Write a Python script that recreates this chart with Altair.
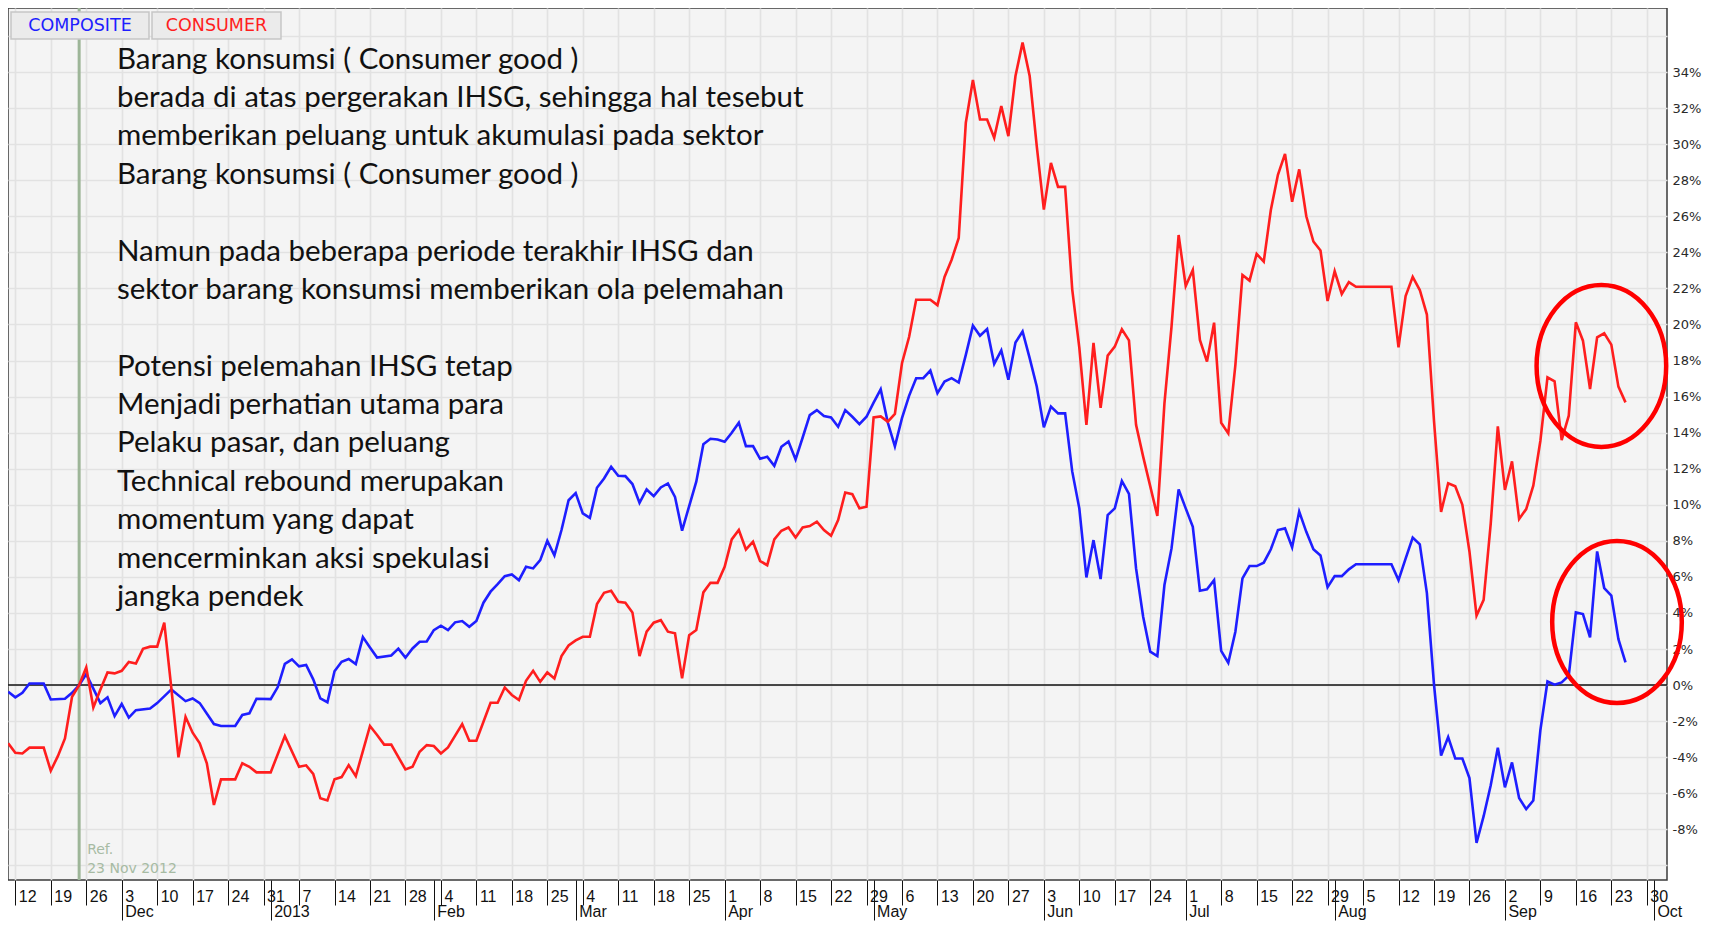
import json
import altair as alt
import pandas as pd

# x = trading session index counted from Monday 12 Nov 2012 (= 0); y = % change vs 23 Nov 2012
composite_points = [
    (-1, -0.37), (0, -0.68), (1, -0.43), (2, 0.09), (4, 0.09), (5, -0.80), (7, -0.76), (8, -0.43),
    (9, 0.00), (10, 0.61), (12, -1.00), (13, -0.68), (14, -1.72), (15, -1.05), (16, -1.80), (17, -1.39),
    (19, -1.30), (20, -1.00), (22, -0.24), (24, -0.89), (25, -0.74), (26, -1.00), (28, -2.16), (29, -2.27),
    (31, -2.27), (32, -1.66), (33, -1.57), (34, -0.76), (36, -0.78), (37, -0.11), (38, 1.18), (39, 1.43),
    (40, 1.04), (41, 1.12), (42, 0.32), (43, -0.74), (44, -0.95), (45, 0.77), (46, 1.29), (47, 1.45),
    (48, 1.16), (49, 2.66), (50, 2.08), (51, 1.53), (53, 1.64), (54, 2.02), (55, 1.52), (56, 2.03),
    (57, 2.40), (58, 2.42), (59, 3.05), (60, 3.29), (61, 3.05), (62, 3.48), (63, 3.55), (64, 3.23),
    (65, 3.55), (66, 4.57), (67, 5.18), (68, 5.60), (69, 6.04), (70, 6.14), (71, 5.82), (72, 6.56),
    (73, 6.47), (74, 6.93), (75, 8.00), (76, 7.20), (77, 8.60), (78, 10.25), (79, 10.65), (80, 9.52),
    (81, 9.27), (82, 10.94), (83, 11.46), (84, 12.11), (85, 11.61), (86, 11.59), (87, 11.15), (88, 10.11),
    (89, 10.85), (90, 10.48), (91, 10.96), (92, 11.18), (93, 10.44), (94, 8.56), (95, 9.93), (96, 11.28),
    (97, 13.36), (98, 13.66), (99, 13.62), (100, 13.49), (101, 13.99), (102, 14.55), (103, 13.25), (104, 13.25),
    (105, 12.55), (106, 12.66), (107, 12.16), (108, 13.22), (109, 13.51), (110, 12.51), (111, 13.73), (112, 14.97),
    (113, 15.25), (114, 14.92), (115, 14.84), (116, 14.33), (117, 15.25), (118, 14.88), (119, 14.47), (120, 14.88),
    (121, 15.66), (122, 16.40), (123, 14.56), (124, 13.24), (125, 14.80), (126, 16.04), (127, 17.02), (128, 17.02),
    (129, 17.44), (130, 16.19), (131, 16.83), (132, 17.02), (133, 16.78), (134, 18.31), (135, 19.93), (136, 19.37),
    (137, 19.74), (138, 17.81), (139, 18.56), (140, 16.93), (141, 19.00), (142, 19.61), (143, 18.13), (144, 16.56),
    (145, 14.30), (146, 15.44), (147, 15.07), (148, 15.07), (149, 11.85), (150, 9.80), (151, 5.97), (152, 8.04),
    (153, 5.88), (154, 9.43), (155, 9.80), (156, 11.32), (157, 10.60), (158, 6.47), (159, 3.79), (160, 1.85),
    (161, 1.61), (162, 5.55), (163, 7.58), (164, 10.85), (165, 9.80), (166, 8.78), (167, 5.23), (168, 5.31),
    (169, 5.82), (170, 1.90), (171, 1.24), (172, 2.96), (173, 5.92), (174, 6.60), (175, 6.60), (176, 6.79),
    (177, 7.53), (178, 8.60), (179, 8.69), (180, 7.64), (181, 9.62), (182, 8.50), (183, 7.53), (184, 7.19),
    (185, 5.43), (186, 6.04), (187, 6.04), (188, 6.42), (189, 6.70), (194, 6.70), (195, 5.82), (196, 7.01),
    (197, 8.18), (198, 7.80), (199, 5.10), (200, 0.04), (201, -3.91), (202, -2.88), (203, -4.07), (204, -4.07),
    (205, -5.16), (206, -8.75), (207, -7.27), (208, -5.56), (209, -3.47), (210, -5.67), (211, -4.29), (212, -6.26),
    (213, -6.88), (214, -6.40), (215, -2.50), (216, 0.20), (217, 0.02), (218, 0.15), (219, 0.52), (220, 4.03),
    (221, 3.94), (222, 2.64), (223, 7.41), (224, 5.38), (225, 4.96), (226, 2.55), (227, 1.26),
]

consumer_points = [
    (-1, -3.23), (0, -3.75), (1, -3.79), (2, -3.47), (4, -3.47), (5, -4.75), (6, -3.94), (7, -2.96),
    (8, -0.65), (9, 0.00), (10, 0.98), (11, -1.24), (12, -0.24), (13, 0.70), (14, 0.65), (15, 0.79),
    (16, 1.28), (17, 1.20), (18, 2.01), (19, 2.13), (20, 2.13), (21, 3.46), (22, -0.18), (23, -4.01),
    (24, -1.76), (25, -2.64), (26, -3.23), (27, -4.34), (28, -6.65), (29, -5.23), (31, -5.23), (32, -4.34),
    (33, -4.53), (34, -4.84), (36, -4.84), (38, -2.83), (40, -4.53), (41, -4.45), (42, -4.92), (43, -6.28),
    (44, -6.40), (45, -5.22), (46, -5.10), (47, -4.44), (48, -5.05), (49, -3.66), (50, -2.27), (51, -2.77),
    (52, -3.30), (53, -3.30), (55, -4.68), (56, -4.53), (57, -3.70), (58, -3.33), (59, -3.38), (60, -3.79),
    (61, -3.46), (63, -2.16), (64, -3.09), (65, -3.09), (66, -2.03), (67, -0.98), (68, -0.98), (69, -0.13),
    (70, -0.55), (71, -0.83), (72, 0.24), (73, 0.79), (74, 0.18), (75, 0.70), (76, 0.37), (77, 1.61),
    (78, 2.20), (79, 2.48), (80, 2.68), (81, 2.68), (82, 4.49), (83, 5.12), (84, 5.23), (85, 4.62),
    (86, 4.57), (87, 4.03), (88, 1.61), (89, 2.96), (90, 3.46), (91, 3.60), (92, 2.96), (93, 2.87),
    (94, 0.37), (95, 2.77), (96, 3.05), (97, 5.14), (98, 5.67), (99, 5.67), (100, 6.56), (101, 8.08),
    (102, 8.60), (103, 7.52), (104, 7.95), (105, 6.88), (106, 6.65), (107, 8.08), (108, 8.56), (109, 8.74),
    (110, 8.19), (111, 8.74), (112, 8.82), (113, 9.06), (114, 8.60), (115, 8.28), (116, 9.15), (117, 10.68),
    (118, 10.59), (119, 9.80), (120, 9.89), (121, 14.84), (122, 14.90), (123, 14.61), (124, 15.04), (125, 17.85),
    (126, 19.30), (127, 21.37), (129, 21.37), (130, 21.07), (131, 22.63), (132, 23.59), (133, 24.80), (134, 31.19),
    (135, 33.56), (136, 31.37), (137, 31.37), (138, 30.35), (139, 32.11), (140, 30.44), (141, 33.78), (142, 35.63),
    (143, 33.78), (144, 29.89), (145, 26.37), (146, 28.96), (147, 27.63), (148, 27.63), (149, 21.95), (150, 18.72),
    (151, 14.43), (152, 18.98), (153, 15.38), (154, 18.27), (155, 18.77), (156, 19.73), (157, 19.12), (158, 14.43),
    (159, 12.67), (161, 9.38), (162, 15.62), (163, 19.88), (164, 24.96), (165, 22.13), (166, 23.02), (167, 19.14),
    (168, 17.94), (169, 20.10), (170, 14.55), (171, 13.96), (172, 17.75), (173, 22.74), (174, 22.43), (175, 23.91),
    (176, 23.48), (177, 26.35), (178, 28.30), (179, 29.46), (180, 26.80), (181, 28.60), (182, 26.00), (183, 24.60),
    (184, 24.10), (185, 21.30), (186, 22.95), (187, 21.69), (188, 22.35), (189, 22.09), (194, 22.09), (195, 18.73),
    (196, 21.58), (197, 22.64), (198, 21.91), (199, 20.55), (200, 14.66), (201, 9.60), (202, 11.19), (203, 11.03),
    (204, 10.00), (205, 7.41), (206, 3.85), (207, 4.73), (208, 8.95), (209, 14.35), (210, 10.82), (211, 12.41),
    (212, 9.21), (213, 9.76), (214, 11.06), (215, 13.55), (216, 17.07), (217, 16.85), (218, 13.59), (219, 14.94),
    (220, 20.12), (221, 19.10), (222, 16.42), (223, 19.29), (224, 19.51), (225, 18.88), (226, 16.55), (227, 15.68),
]

series_names = ["COMPOSITE", "CONSUMER"]
series_colors = ["#1e1eff", "#ff1e1e"]

week_tick_day = list(range(0, 231, 5))
week_tick_label = ["12", "19", "26", "3", "10", "17", "24", "31", "7", "14", "21", "28",
                   "4", "11", "18", "25", "4", "11", "18", "25", "1", "8", "15", "22", "29",
                   "6", "13", "20", "27", "3", "10", "17", "24", "1", "8", "15", "22", "29",
                   "5", "12", "19", "26", "2", "9", "16", "23", "30"]
month_tick_day = [15, 36, 59, 79, 100, 121, 145, 165, 186, 210, 231]
month_tick_label = ["Dec", "2013", "Feb", "Mar", "Apr", "May", "Jun", "Jul", "Aug", "Sep", "Oct"]
pct_ticks = list(range(-10, 37, 2))

ref_day = 9
ref_label = ["Ref.", "23 Nov 2012"]

note_paragraphs = [
    ["Barang konsumsi ( Consumer good )",
     "berada di atas pergerakan IHSG, sehingga hal tesebut",
     "memberikan peluang untuk akumulasi pada sektor",
     "Barang konsumsi ( Consumer good )"],
    ["Namun pada beberapa periode terakhir IHSG dan",
     "sektor barang konsumsi memberikan ola pelemahan"],
    ["Potensi pelemahan IHSG tetap",
     "Menjadi perhatian utama para",
     "Pelaku pasar, dan peluang",
     "Technical rebound merupakan",
     "momentum yang dapat",
     "mencerminkan aksi spekulasi",
     "jangka pendek"],
]
note_first_row = [0, 5, 8]   # row of each paragraph's first line (blank rows between)

highlight_day = [223.6, 225.8]
highlight_pct = [17.7, 3.5]

# ---------------------------------------------------------------- frames
rows = []
for name, pts in zip(series_names, [composite_points, consumer_points]):
    for d, v in pts:
        rows.append({"t": d, "v": v, "series": name})
lines_df = pd.DataFrame(rows)

W, H = 1659, 872
LINE_H = 38.4
xs = alt.Scale(domain=[-1.03, 232.85], nice=False, zero=False)
ys = alt.Scale(domain=[-10.81, 37.55], nice=False, zero=False)

AX_FONT = "Liberation Sans, Arial, sans-serif"

day_axis = alt.Axis(
    values=week_tick_day,
    labelExpr=json.dumps(week_tick_label) + "[round(datum.value / 5)]",
    orient="bottom", title=None, domain=False,
    grid=True, gridColor="#e2e2e2", gridWidth=1.6,
    ticks=True, tickSize=25, tickColor="#111111", tickWidth=1,
    labelAlign="left", labelBaseline="middle", labelPadding=-9, labelOffset=3,
    labelFlush=False, labelOverlap=False, labelBound=False,
    labelFont=AX_FONT, labelFontSize=16, labelColor="#111111",
)
month_axis = alt.Axis(
    values=month_tick_day,
    labelExpr=json.dumps(month_tick_label) + "[indexof(" + json.dumps(month_tick_day) + ", datum.value)]",
    orient="bottom", title=None, domain=False, grid=False,
    ticks=True, tickSize=40, tickColor="#111111", tickWidth=1,
    labelAlign="left", labelBaseline="middle", labelPadding=-9, labelOffset=3,
    labelFlush=False, labelOverlap=False, labelBound=False,
    labelFont=AX_FONT, labelFontSize=16, labelColor="#111111",
)
y_axis = alt.Axis(
    values=pct_ticks,
    labelExpr="(datum.value < -9 || datum.value > 35) ? '' : datum.value + '%'",
    orient="right", title=None, domain=False, ticks=False,
    grid=True, gridColor="#e2e2e2", gridWidth=1.6,
    labelFont="DejaVu Sans", labelFontSize=13, labelColor="#2a2a2a", labelPadding=5,
    labelOverlap=False,
)

ref_rule = alt.Chart(pd.DataFrame({"t": [ref_day]})).mark_rule(
    color="#9db598", strokeWidth=3
).encode(x=alt.X("t:Q", scale=xs, axis=None))

zero_rule = alt.Chart(pd.DataFrame({"v": [0]})).mark_rule(
    color="#111111", strokeWidth=1.5
).encode(y=alt.Y("v:Q", scale=ys, axis=y_axis))

lines = alt.Chart(lines_df).mark_line(strokeWidth=2.6).encode(
    x=alt.X("t:Q", scale=xs, axis=day_axis),
    y=alt.Y("v:Q", scale=ys, axis=y_axis),
    color=alt.Color("series:N", scale=alt.Scale(domain=series_names, range=series_colors), legend=None),
)

month_layer = alt.Chart(pd.DataFrame({"t": month_tick_day, "v": [0] * len(month_tick_day)})).mark_point(
    opacity=0
).encode(
    x=alt.X("t:Q", scale=xs, axis=month_axis),
    y=alt.Y("v:Q", scale=ys, axis=y_axis),
)

note_layers = []
for para, row0 in zip(note_paragraphs, note_first_row):
    note_layers.append(
        alt.Chart(pd.DataFrame({"txt": ["\n".join(para)]})).mark_text(
            align="left", baseline="alphabetic", lineBreak="\n", lineHeight=LINE_H,
            font="Lato", fontSize=29.5, color="#111111",
        ).encode(x=alt.value(109), y=alt.value(60.5 + row0 * LINE_H), text="txt:N")
    )

ref_text = alt.Chart(pd.DataFrame({"t": [ref_day], "txt": ["\n".join(ref_label)]})).mark_text(
    align="left", baseline="alphabetic", lineBreak="\n", lineHeight=19, dx=8,
    font="DejaVu Sans", fontSize=14, color="#a7bba3",
).encode(x=alt.X("t:Q", scale=xs, axis=None), y=alt.value(846), text="txt:N")

ELLIPSE = "M -0.8 0 A 0.8 1 0 1 1 0.8 0 A 0.8 1 0 1 1 -0.8 0 Z"
ellipses = alt.Chart(pd.DataFrame({"t": highlight_day, "v": highlight_pct})).mark_point(
    shape=ELLIPSE, size=26244, filled=False, color="#ff0000", strokeWidth=4.5, opacity=1
).encode(
    x=alt.X("t:Q", scale=xs, axis=None),
    y=alt.Y("v:Q", scale=ys, axis=y_axis),
)

btn1 = alt.Chart(pd.DataFrame({"a": [0]})).mark_rect(
    fill="#ebebeb", stroke="#c6c6c6", strokeWidth=1.5
).encode(x=alt.value(3), x2=alt.value(141), y=alt.value(4), y2=alt.value(31))
btn2 = alt.Chart(pd.DataFrame({"a": [0]})).mark_rect(
    fill="#ebebeb", stroke="#c6c6c6", strokeWidth=1.5
).encode(x=alt.value(144), x2=alt.value(273), y=alt.value(4), y2=alt.value(31))
btn_t1 = alt.Chart(pd.DataFrame({"txt": [series_names[0]]})).mark_text(
    align="center", baseline="middle", font="DejaVu Sans", fontSize=17.5, color=series_colors[0]
).encode(x=alt.value(72), y=alt.value(18), text="txt:N")
btn_t2 = alt.Chart(pd.DataFrame({"txt": [series_names[1]]})).mark_text(
    align="center", baseline="middle", font="DejaVu Sans", fontSize=17.5, color=series_colors[1]
).encode(x=alt.value(208.5), y=alt.value(18), text="txt:N")

chart = alt.layer(
    ref_rule, zero_rule, lines, month_layer, *note_layers, ref_text, ellipses,
    btn1, btn2, btn_t1, btn_t2,
).resolve_axis(x="independent").properties(
    width=W, height=H, background="#ffffff",
    autosize=alt.AutoSizeParams(type="none"),
    padding={"left": 0, "top": 0, "right": 35, "bottom": 44},
).configure_view(fill="#f4f4f4", stroke="#3a3a3a", strokeWidth=1.5)

chart.save("out.html", embed_options={"renderer": "svg", "actions": False})
